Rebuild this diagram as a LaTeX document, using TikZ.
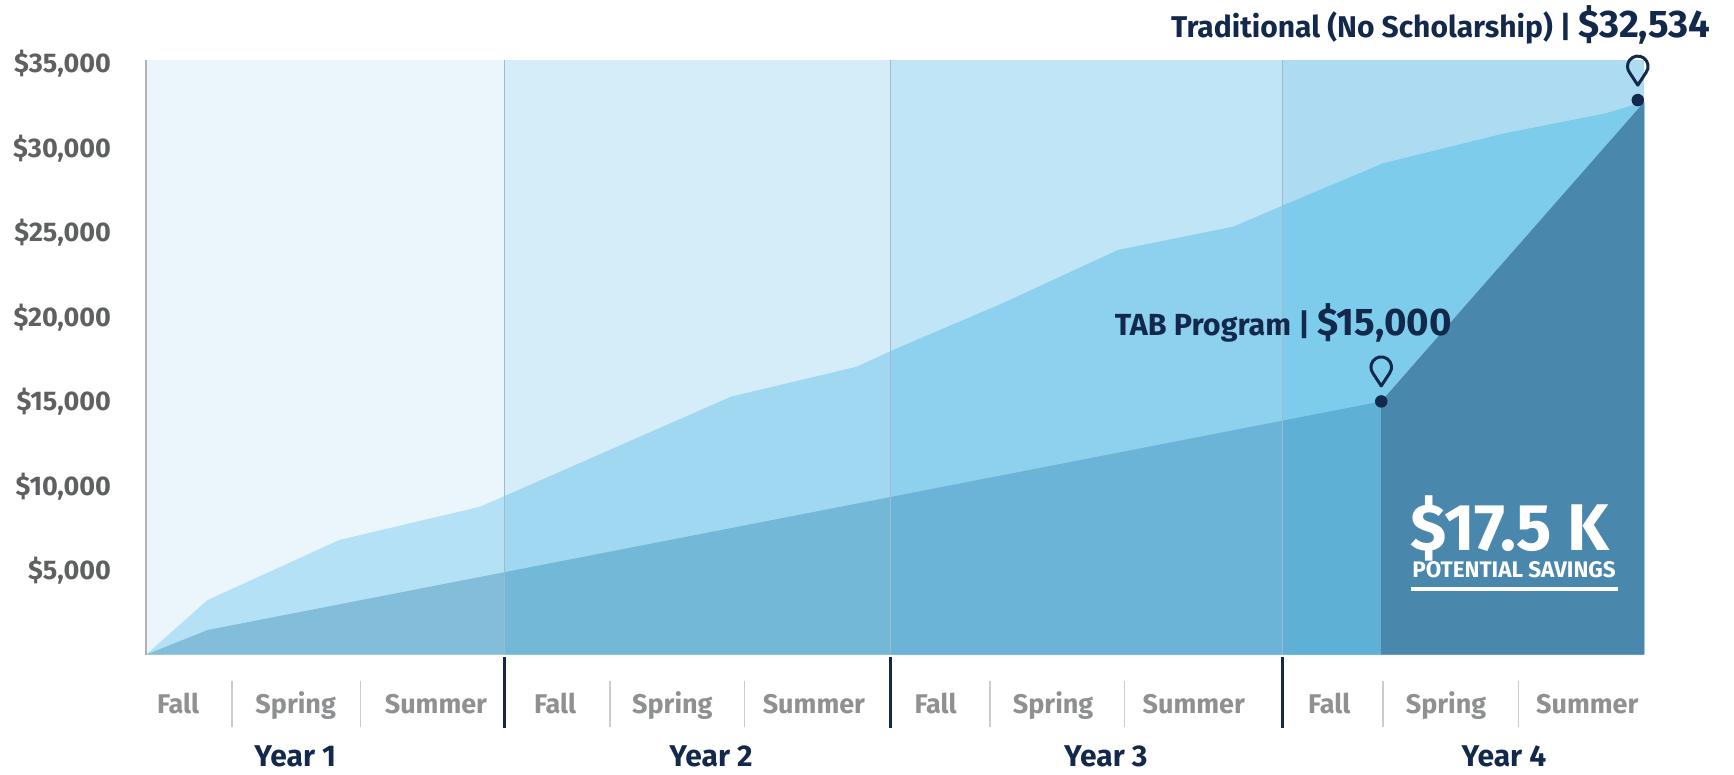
\documentclass[tikz,border=0pt]{standalone}
\usepackage{fontspec}
\setmainfont{Fira Sans}
\definecolor{bgA}{HTML}{EAF6FC}\definecolor{trA}{HTML}{B4E1F5}\definecolor{tbA}{HTML}{82BDDA}
\definecolor{bgB}{HTML}{D5EDF9}\definecolor{trB}{HTML}{A0D8F2}\definecolor{tbB}{HTML}{74B8D8}
\definecolor{bgC}{HTML}{BFE5F6}\definecolor{trC}{HTML}{8ED1EF}\definecolor{tbC}{HTML}{6BB3D7}
\definecolor{bgD}{HTML}{ADDCF2}\definecolor{trD}{HTML}{7DCCEB}\definecolor{tbD}{HTML}{5EB0D4}
\definecolor{savec}{HTML}{4A87AD}
\definecolor{navy}{HTML}{13294B}
\definecolor{sublab}{HTML}{8E9092}
\definecolor{ylab}{HTML}{5E6062}
\definecolor{gridc}{HTML}{9FBBCB}
\begin{document}
\begin{tikzpicture}[x=1.1059pt,y=-1.1059pt,
  ylabel/.style={anchor=base east,text=ylab,font=\fontsize{27}{27}\selectfont\bfseries,inner sep=0pt},
  semlabel/.style={anchor=base,text=sublab,font=\fontsize{27}{27}\selectfont\bfseries,inner sep=0pt},
  yearlabel/.style={anchor=base,text=navy,font=\fontsize{30}{30}\selectfont\bfseries,inner sep=0pt},
  yeardiv/.style={navy,line width=3pt},
  semdiv/.style={draw=black!20,line width=1.5pt},
  griddiv/.style={gridc,line width=1pt},
  pinmark/.style={draw=navy,line width=3pt,line join=round},
  dotmark/.style={circle,fill=navy,inner sep=0pt,minimum size=12.5pt}]
\useasboundingbox (0,0) rectangle (1568,700);
\fill[white] (0,0) rectangle (1568,700);
\def\tradpath{(132,592) -- (187.7,542.6) -- (306.8,488.3) -- (434,458.2) -- (455.3,449) -- (661,358.7) -- (774.6,331.6) -- (807.5,316.5) -- (907,274) -- (1011,226) -- (1115,205) -- (1161,185.4) -- (1250.6,147.7) -- (1360,120.6) -- (1451.8,102.5) -- (1487,92) -- (1487,592) -- cycle}
\def\tabpath{(132,592) -- (187.7,569.7) -- (1249,363) -- (1249,592) -- cycle}
\foreach \xa/\xb/\cb/\ct/\cp in {132/456/bgA/trA/tbA,456/805.5/bgB/trB/tbB,805.5/1160/bgC/trC/tbC,1160/1487/bgD/trD/tbD}{
  \begin{scope}
    \clip (\xa,54.5) rectangle (\xb,592);
    \fill[\cb] (\xa,54.5) rectangle (\xb,592);
    \fill[\ct] \tradpath;
    \fill[\cp] \tabpath;
  \end{scope}
}
% savings
\fill[savec] (1249,363) -- (1487,92) -- (1487,592) -- (1249,592) -- cycle;
% grid lines
\foreach \xx in {456,805.5,1160}{\draw[griddiv] (\xx,54.5) -- (\xx,592);}
\draw[line width=1.5pt,black!30] (132,54.5) -- (132,592);
% axis labels
\foreach \v/\t in {1/\$5{,}000,2/\$10{,}000,3/\$15{,}000,4/\$20{,}000,5/\$25{,}000,6/\$30{,}000,7/\$35{,}000}{
  \node[ylabel] (y\v) at (100.5,{592-\v*76.4+8.5}) {\t};
}
% year dividers and semester separators
\coordinate (d1a) at (456,594); \coordinate (d1b) at (456,658);
\coordinate (d2a) at (805.5,594); \coordinate (d2b) at (805.5,658);
\coordinate (d3a) at (1160,594); \coordinate (d3b) at (1160,658);
\draw[yeardiv] (d1a) -- (d1b);
\draw[yeardiv] (d2a) -- (d2b);
\draw[yeardiv] (d3a) -- (d3b);
\foreach \xx [count=\i] in {210,326,551.4,673,895,1016.8,1250.7,1373}{
  \coordinate (s\i a) at (\xx,616); \coordinate (s\i b) at (\xx,657);
  \draw[semdiv] (s\i a) -- (s\i b);
}
\foreach \xx/\t [count=\i] in {161/Fall,267.4/Spring,394.2/Summer,502/Fall,608/Spring,736/Summer,846/Fall,952.3/Spring,1079.5/Summer,1202/Fall,1307.6/Spring,1435.3/Summer}{
  \node[semlabel] (sem\i) at (\xx,645) {\t};
}
\node[yearlabel] (yr1) at (267,693.5) {Year 1};
\node[yearlabel] (yr2) at (643,693.5) {Year 2};
\node[yearlabel] (yr3) at (1000,693.5) {Year 3};
\node[yearlabel] (yr4) at (1360,693.5) {Year 4};
% markers
\node[dotmark] (tabdot) at (1249,363) {};
\node[dotmark] (traddot) at (1481,90.5) {};
\begin{scope}[shift={(1249,332)},x=1.1059pt,y=1.1059pt]
  \draw[pinmark] (0,-17) -- (-36:9.3) arc[start angle=-36,end angle=216,radius=9.3] -- cycle;
\end{scope}
\begin{scope}[shift={(1481,60)},x=1.1059pt,y=1.1059pt]
  \draw[pinmark] (0,-17) -- (-36:9.3) arc[start angle=-36,end angle=216,radius=9.3] -- cycle;
\end{scope}
% titles
\node[anchor=base east,text=navy,inner sep=0pt] (tradlabel) at (1547,34)
  {\bfseries\fontsize{30}{30}\selectfont Traditional (No Scholarship) | \fontsize{38.5}{38.5}\selectfont\$32,534};
\node[anchor=base west,text=navy,inner sep=0pt] (tablabel) at (1008,303)
  {\bfseries\fontsize{30.5}{30.5}\selectfont TAB Program | \fontsize{38.5}{38.5}\selectfont\$15,000};
% savings
\node[anchor=base west,text=white,inner sep=0pt,font=\bfseries\fontsize{66}{66}\selectfont] (savebig) at (1275,498) {\$17.5 K};
\node[anchor=base west,text=white,inner sep=0pt,font=\bfseries\fontsize{22.5}{22.5}\selectfont] (savesmall) at (1277,522.5) {POTENTIAL SAVINGS};
\coordinate (ula) at (1275.5,532.6); \coordinate (ulb) at (1462.7,532.6);
\draw[white,line width=3.6pt] (ula) -- (ulb);
\end{tikzpicture}
\end{document}
